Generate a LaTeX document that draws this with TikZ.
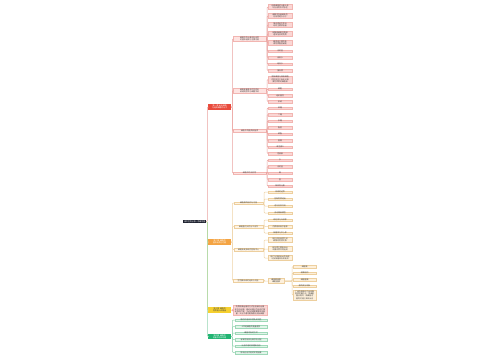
\documentclass[tikz,border=0pt]{standalone}
\usepackage{fontspec}
\setmainfont{Noto Sans CJK SC}
\XeTeXlinebreaklocale "zh"
\XeTeXlinebreakskip=0pt
\definecolor{rootc}{HTML}{1E2230}
\definecolor{redM}{HTML}{E94B3C}
\definecolor{redL}{HTML}{FDE3E1}
\definecolor{redLeaf}{HTML}{FAD6D4}
\definecolor{redB}{HTML}{F2B5B1}
\definecolor{redLine}{HTML}{EBA3A0}
\definecolor{orM}{HTML}{F4A443}
\definecolor{orL}{HTML}{FFF4E4}
\definecolor{orLeaf}{HTML}{FDF0DC}
\definecolor{orB}{HTML}{EDCF9E}
\definecolor{orLine}{HTML}{EFD3A6}
\definecolor{yeM}{HTML}{F6D02F}
\definecolor{grM}{HTML}{22B573}
\definecolor{grLeaf}{HTML}{E2F5EA}
\definecolor{grB}{HTML}{9ED8B8}
\definecolor{grLine}{HTML}{95D5B2}
\definecolor{txt}{HTML}{444444}
\tikzset{
  box/.style={anchor=west, inner xsep=0pt, inner ysep=0.5pt, align=center,
    font=\fontsize{1.9}{2.4}\selectfont, text=txt},
  rootbox/.style={box, fill=rootc, text=white},
  redmain/.style={box, fill=redM, text=white},
  ormain/.style={box, fill=orM, text=white},
  yemain/.style={box, fill=yeM, text=txt},
  grmain/.style={box, fill=grM, text=white},
  redmid/.style={box, fill=redL, draw=redB, line width=0.2pt},
  redleaf/.style={box, fill=redLeaf, draw=redB, line width=0.2pt},
  ormid/.style={box, fill=orL, draw=orB, line width=0.2pt},
  orleaf/.style={box, fill=orLeaf, draw=orB, line width=0.2pt},
  grleaf/.style={box, fill=grLeaf, draw=grB, line width=0.2pt},
  link/.style={line width=0.5pt, rounded corners=0.8pt},
}
\newcommand{\nd}[6]{\node[#1, text width=#5pt] (#2) at (#3,#4) {#6};}
\newcommand{\cn}[3]{\draw[link,#1] (#2.east) -- ++(1,0) |- (#3.west);}
\begin{document}
\begin{tikzpicture}[x=1pt,y=-1pt]
\useasboundingbox[fill=white] (0,0) rectangle (500,360);
% root
\nd{rootbox}{root}{183}{221.5}{23}{高中生物必修一思维导图}
% mains
\nd{redmain}{RM}{208}{107}{23}{第一章 走近细胞与组成细胞的分子}
\nd{ormain}{OM}{208}{242}{23}{第二章 细胞的基本结构与功能}
\nd{yemain}{YM}{208}{310}{23}{第三章 细胞的物质输入和输出}
\nd{grmain}{GM}{208}{336.5}{23}{第四章 细胞的能量供应和利用}
% red level 2
\nd{redmid}{R1}{233}{39}{33}{细胞中的元素和化合物的基本组成与主要功能}
\nd{redmid}{R2}{233}{90.5}{33}{细胞是最基本的生命系统结构层次与细胞学说}
\nd{redmid}{R3}{233}{130.75}{33}{细胞中的糖类和脂质}
\nd{redmid}{R4}{233}{173}{33}{细胞中的无机物}
% R1 leaves
\nd{redleaf}{R1a}{268}{7}{24}{组成细胞的元素大多以化合物形式存在}
\nd{redleaf}{R1b}{268}{16}{24}{细胞中含量最多的化合物是水分子}
\nd{redleaf}{R1c}{268}{25}{24}{蛋白质是生命活动的主要承担者}
\nd{redleaf}{R1d}{268}{34}{24}{核酸是细胞内携带遗传信息的物质}
\nd{redleaf}{R1e}{268}{43}{24}{糖类是主要的能源物质脂肪储能}
\nd{redleaf}{R1f}{268}{51}{24}{无机盐}
\nd{redleaf}{R1g}{268}{57.5}{24}{自由水}
\nd{redleaf}{R1h}{268}{64}{24}{结合水}
\nd{redleaf}{R1i}{268}{70.5}{24}{蛋白质}
% R2 leaves
\nd{redleaf}{R2a}{268}{79.5}{24}{原核细胞与真核细胞的区别在于有无以核膜为界限的细胞核}
\nd{redleaf}{R2b}{268}{89}{24}{细胞}
\nd{redleaf}{R2c}{268}{95.5}{24}{组织器官}
\nd{redleaf}{R2d}{268}{101.5}{24}{系统}
% R3 leaves
\nd{redleaf}{R3a}{268}{108}{24}{单糖}
\nd{redleaf}{R3b}{268}{114.5}{24}{二糖}
\nd{redleaf}{R3c}{268}{121}{24}{多糖}
\nd{redleaf}{R3d}{268}{127.5}{24}{脂肪}
\nd{redleaf}{R3e}{268}{134}{24}{磷脂}
\nd{redleaf}{R3f}{268}{140.5}{24}{固醇}
\nd{redleaf}{R3g}{268}{147}{24}{维生素D}
\nd{redleaf}{R3h}{268}{153.5}{24}{性激素}
% R4 leaves
\nd{redleaf}{R4a}{268}{160}{24}{水}
\nd{redleaf}{R4b}{268}{166.5}{24}{无机盐}
\nd{redleaf}{R4c}{268}{173}{24}{碳}
\nd{redleaf}{R4d}{268}{179.5}{24}{氢}
\nd{redleaf}{R4e}{268}{186}{24}{氧和氮元素}
% orange level 2
\nd{ormid}{O1}{234}{203}{29}{细胞膜的结构与功能}
\nd{ormid}{O2}{234}{226.5}{29}{细胞器之间的分工合作}
\nd{ormid}{O3}{234}{249.5}{29}{细胞核是系统的控制中心}
\nd{ormid}{O4}{233}{280.5}{30}{生物膜系统的组成与功能}
% orange leaves
\nd{orleaf}{O1a}{268}{192}{24}{系统的边界}
\nd{orleaf}{O1b}{268}{199}{24}{控制物质进出}
\nd{orleaf}{O1c}{268}{206}{24}{进行信息交流}
\nd{orleaf}{O1d}{268}{213}{24}{流动镶嵌模型}
\nd{orleaf}{O2a}{268}{220}{24}{线粒体与叶绿体}
\nd{orleaf}{O2b}{268}{226.5}{24}{内质网和高尔基体}
\nd{orleaf}{O2c}{268}{233}{24}{核糖体与中心体}
\nd{orleaf}{O3a}{268}{240}{24}{核孔实现核质之间频繁的物质交换}
\nd{orleaf}{O3b}{268}{249}{24}{染色质主要由DNA和蛋白质共同组成}
\nd{orleaf}{O3c}{268}{258}{24}{核仁与某种RNA的合成以及核糖体形成有关}
\nd{orleaf}{O4a}{268}{281}{16}{细胞膜核膜细胞器膜}
\nd{orleaf}{O4b}{293}{266.5}{23}{细胞膜}
\nd{orleaf}{O4c}{293}{273}{23}{核膜结构}
\nd{orleaf}{O4d}{293}{279.5}{23}{细胞器膜}
\nd{orleaf}{O4e}{293}{286}{23}{膜的成分相似}
\nd{orleaf}{O4f}{293}{295}{23}{广阔的膜面积为多种酶提供附着位点，把细胞器分隔开，使细胞内能同时进行多种反应}
% yellow child
\nd{redleaf}{Y1}{233}{310.5}{34}{物质跨膜运输的方式包括被动运输和主动运输，被动运输分为自由扩散和协助扩散，主动运输需要载体和能量，大分子通过胞吞胞吐进出细胞}
% green children
\nd{grleaf}{G1}{235}{320}{32}{酶的作用和本质及其特性}
\nd{grleaf}{G2}{235}{326.5}{32}{ATP是细胞的能量通货}
\nd{grleaf}{G3}{235}{333}{32}{细胞呼吸的方式}
\nd{grleaf}{G4}{235}{339.5}{32}{有氧呼吸和无氧呼吸过程}
\nd{grleaf}{G5}{235}{346}{32}{光合作用的原理和应用}
\nd{grleaf}{G6}{235}{352.5}{32}{影响光合作用的环境因素}
% connectors
\cn{orLine}{root}{OM}
\cn{yeM!70}{root}{YM}
\cn{grLine}{root}{GM}
\cn{redLine}{root}{RM}
\foreach \c in {R1,R2,R3,R4} {\cn{redLine}{RM}{\c}}
\foreach \c in {R1a,R1b,R1c,R1d,R1e,R1f,R1g,R1h,R1i} {\cn{redLine}{R1}{\c}}
\foreach \c in {R2a,R2b,R2c,R2d} {\cn{redLine}{R2}{\c}}
\foreach \c in {R3a,R3b,R3c,R3d,R3e,R3f,R3g,R3h} {\cn{redLine}{R3}{\c}}
\foreach \c in {R4a,R4b,R4c,R4d,R4e} {\cn{redLine}{R4}{\c}}
\foreach \c in {O1,O2,O3,O4} {\cn{orLine}{OM}{\c}}
\foreach \c in {O1a,O1b,O1c,O1d} {\cn{orLine}{O1}{\c}}
\foreach \c in {O2a,O2b,O2c} {\cn{orLine}{O2}{\c}}
\foreach \c in {O3a,O3b,O3c} {\cn{orLine}{O3}{\c}}
\cn{orLine}{O4}{O4a}
\foreach \c in {O4b,O4c,O4d,O4e,O4f} {\draw[link,orLine] (O4a.east) -- ++(8,0) |- (\c.west);}
\cn{redLine}{YM}{Y1}
\foreach \c in {G1,G2,G3,G4,G5,G6} {\cn{grLine}{GM}{\c}}
\end{tikzpicture}
\end{document}
